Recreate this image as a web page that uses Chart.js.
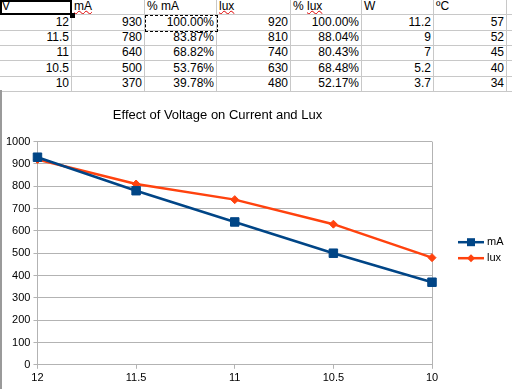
<!DOCTYPE html>
<html>
<head>
<meta charset="utf-8">
<script src="https://cdn.jsdelivr.net/npm/chart.js@4/dist/chart.umd.min.js"></script>
<style>
  body { margin: 0; background: #fff; font-family: "Liberation Sans", Arial, sans-serif; }
  #sheet { position: absolute; left: 0; top: 0; width: 512px; height: 92px; }
  .cell { position: absolute; box-sizing: border-box; border-right: 1px solid #c8c8c8; border-bottom: 1px solid #c8c8c8;
          font-size: 12px; color: #000; white-space: nowrap; overflow: hidden; }
  .num { text-align: right; padding-right: 2px; }
  .hdr { text-align: left; padding-left: 2px; }
  .spell { text-decoration: underline wavy #e00000; text-decoration-thickness: 1px; text-underline-offset: 0px; }
  #wrap { position: absolute; left: 0; top: 92px; width: 512px; height: 297px; background: #fff; }
  #frame { position: absolute; left: 0; top: 90px; width: 2px; height: 299px; background: #9a9a9a; }
</style>
</head>
<body>
<div id="sheet"></div>
<div id="wrap"><canvas id="chart" width="512" height="297"></canvas></div>
<div id="frame"></div>
<script>
'use strict';

var headers = ['V', 'mA', '% mA', 'lux', '% lux', 'W', '\u00baC'];
var volts = ['12', '11.5', '11', '10.5', '10'];
var mA = [930, 780, 640, 500, 370];
var pctMA = ['100.00%', '83.87%', '68.82%', '53.76%', '39.78%'];
var lux = [920, 810, 740, 630, 480];
var pctLux = ['100.00%', '88.04%', '80.43%', '68.48%', '52.17%'];
var watts = ['11.2', '9', '7', '5.2', '3.7'];
var tempC = ['57', '52', '45', '40', '34'];
var yTicks = [0, 100, 200, 300, 400, 500, 600, 700, 800, 900, 1000];

// spreadsheet cells
var colX = [0, 72, 145, 217, 291, 362, 434, 507, 560];
var rowY = [0, 15, 31, 46, 61, 77, 92];
var columns = [volts, mA, pctMA, lux, pctLux, watts, tempC];
var sheet = document.getElementById('sheet');

function addCell(c, r, text, cls) {
  var d = document.createElement('div');
  d.className = 'cell ' + cls;
  d.style.left = colX[c] + 'px';
  d.style.top = rowY[r] + 'px';
  d.style.width = (colX[c + 1] - colX[c]) + 'px';
  d.style.height = (rowY[r + 1] - rowY[r]) + 'px';
  d.style.lineHeight = (rowY[r + 1] - rowY[r] - 2) + 'px';
  if (text === 'mA' || text === 'lux') {
    d.innerHTML = '<span class="spell">' + text + '</span>';
  } else if (text === '% lux') {
    d.innerHTML = '% <span class="spell">lux</span>';
  } else {
    d.textContent = text;
  }
  sheet.appendChild(d);
}

for (var c = 0; c < 8; c++) {
  addCell(c, 0, c < 7 ? headers[c] : '', 'hdr');
  for (var r = 0; r < 5; r++) {
    addCell(c, r + 1, c < 7 ? String(columns[c][r]) : '', 'num');
  }
}

// selected cell A1
var sel = document.createElement('div');
sel.style.cssText = 'position:absolute;left:0;top:0;width:72px;height:15px;box-sizing:border-box;border:2px solid #000;';
sheet.appendChild(sel);
var handle = document.createElement('div');
handle.style.cssText = 'position:absolute;left:70px;top:13px;width:5px;height:5px;background:#000;';
sheet.appendChild(handle);
// copy marquee on C2
var marq = document.createElement('div');
marq.style.cssText = 'position:absolute;left:145px;top:15px;width:73px;height:17px;box-sizing:border-box;border:1px dashed #000;';
sheet.appendChild(marq);

// legend drawn as line + marker, placed right of the plot
var sideLegend = {
  id: 'sideLegend',
  afterDraw: function(chart) {
    var ctx = chart.ctx;
    var area = chart.chartArea;
    var x0 = area.right + 26;
    var yMid = (area.top + area.bottom) / 2 - 11;
    chart.data.datasets.forEach(function(ds, i) {
      var y = yMid + i * 16;
      ctx.save();
      ctx.strokeStyle = ds.borderColor;
      ctx.lineWidth = 2.5;
      ctx.beginPath();
      ctx.moveTo(x0, y);
      ctx.lineTo(x0 + 26, y);
      ctx.stroke();
      ctx.fillStyle = ds.borderColor;
      ctx.beginPath();
      if (ds.pointStyle === 'rect') {
        ctx.rect(x0 + 9, y - 4, 8, 8);
      } else {
        ctx.moveTo(x0 + 13, y - 4);
        ctx.lineTo(x0 + 17, y);
        ctx.lineTo(x0 + 13, y + 4);
        ctx.lineTo(x0 + 9, y);
        ctx.closePath();
      }
      ctx.fill();
      ctx.fillStyle = '#000';
      ctx.font = '11px "Liberation Sans", Arial, sans-serif';
      ctx.textBaseline = 'middle';
      ctx.textAlign = 'left';
      ctx.fillText(ds.label, x0 + 29, y);
      ctx.restore();
    });
  }
};

var ctx = document.getElementById('chart').getContext('2d');

var chart = new Chart(ctx, {
  type: 'line',
  data: {
    labels: volts,
    datasets: [
      {
        label: 'mA',
        data: mA,
        borderColor: '#004586',
        backgroundColor: '#004586',
        borderWidth: 2.5,
        pointStyle: 'rect',
        pointRadius: 6,
        pointBorderWidth: 1,
        pointHoverRadius: 6,
        tension: 0
      },
      {
        label: 'lux',
        data: lux,
        borderColor: '#ff420e',
        backgroundColor: '#ff420e',
        borderWidth: 2.5,
        pointStyle: 'rectRot',
        pointRadius: 4,
        pointBorderWidth: 1,
        pointHoverRadius: 4,
        tension: 0
      }
    ]
  },
  options: {
    responsive: false,
    animation: false,
    layout: { padding: { left: 3, right: 80, top: 0, bottom: 1 } },
    plugins: {
      legend: { display: false },
      tooltip: { enabled: false },
      title: {
        display: true,
        text: 'Effect of Voltage on Current and Lux',
        color: '#000',
        font: { family: '"Liberation Sans", Arial, sans-serif', size: 13, weight: 'normal' },
        padding: { top: 16, bottom: 18 }
      }
    },
    scales: {
      x: {
        offset: false,
        grid: {
          color: function(c) { return c.index === volts.length - 1 ? '#b3b3b3' : 'rgba(0,0,0,0)'; },
          tickColor: '#b3b3b3',
          tickLength: 4,
          lineWidth: 1
        },
        border: { color: '#b3b3b3' },
        ticks: {
          color: '#000',
          padding: 3,
          maxRotation: 0,
          font: { family: '"Liberation Sans", Arial, sans-serif', size: 11 }
        }
      },
      y: {
        min: yTicks[0],
        max: yTicks[yTicks.length - 1],
        afterBuildTicks: function(axis) {
          axis.ticks = yTicks.map(function(v) { return { value: v }; });
        },
        grid: { color: '#b3b3b3', tickColor: '#b3b3b3', tickLength: 4 },
        border: { color: '#b3b3b3' },
        ticks: {
          color: '#000',
          padding: 3,
          font: { family: '"Liberation Sans", Arial, sans-serif', size: 11 },
          callback: function(v) { return String(v); }
        }
      }
    }
  },
  plugins: [sideLegend]
});
</script>
</body>
</html>
